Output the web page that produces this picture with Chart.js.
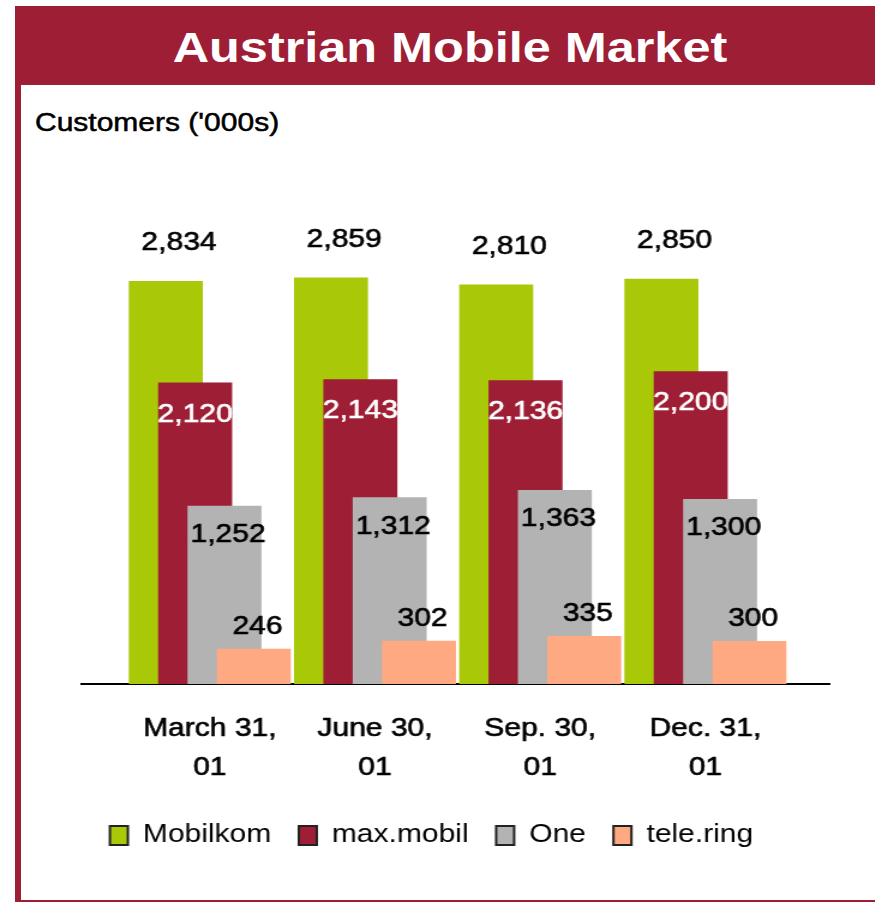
<!DOCTYPE html>
<html>
<head>
<meta charset="utf-8">
<title>Austrian Mobile Market</title>
<script src="https://cdn.jsdelivr.net/npm/chart.js@4.4.1/dist/chart.umd.min.js"></script>
<style>
  html, body { margin: 0; padding: 0; background: #fff; }
  body { width: 875px; height: 903px; position: relative; overflow: hidden; font-family: "Liberation Sans", Arial, sans-serif; }
  #banner { position: absolute; left: 15px; top: 6px; width: 860px; height: 79px; background: #9d1e35; color: #fff; text-align: center; }
  #banner span { display: inline-block; font-weight: bold; font-size: 42px; line-height: 79px; padding: 2px 0 0 9px; transform: scaleX(1.2); }
  #frame { position: absolute; left: 15px; top: 85px; width: 854px; height: 815px; border-left: 6px solid #9d1e35; border-bottom: 2px solid #9d1e35; }
  #unit { position: absolute; left: 35px; top: 110px; font-size: 25px; line-height: 25px; transform: scaleX(1.2); transform-origin: 0 0; white-space: nowrap; -webkit-text-stroke: 0.5px #000; }
  /* the source picture is stretched sideways, so the chart is drawn narrow and widened */
  #wrap { position: absolute; left: 0; top: 0; width: 729.17px; height: 903px; transform: scaleX(1.2); transform-origin: 0 0; }
</style>
</head>
<body>
<div id="frame"></div>
<div id="banner"><span>Austrian Mobile Market</span></div>
<div id="unit">Customers ('000s)</div>
<div id="wrap"><canvas id="chart"></canvas></div>

<script>
// data
const categories = [["March 31,", "01"], ["June 30,", "01"], ["Sep. 30,", "01"], ["Dec. 31,", "01"]];
const seriesNames = ["Mobilkom", "max.mobil", "One", "tele.ring"];
const mobilkom = [2834, 2859, 2810, 2850];
const maxMobil = [2120, 2143, 2136, 2200];
const one = [1252, 1312, 1363, 1300];
const teleRing = [246, 302, 335, 300];

const colors = ['#a9c808', '#9d1e35', '#b3b3b3', '#ffa982'];
const FONT = '"Liberation Sans", Arial, sans-serif';
const SHIFT = 0.1776; // bars of one date overlap, each moved right by this much

// where each series puts its value text, relative to the bar top
const labelStyle = [
    { dx: 11, dy: -38, color: '#000' },
    { dx: 0, dy: 32, color: '#fff' },
    { dx: 3, dy: 29, color: '#000' },
    { dx: 3, dy: -22, color: '#000' }
];

const allSeries = [mobilkom, maxMobil, one, teleRing];

const datasets = allSeries.map(function(values, k) {
    return {
        label: seriesNames[k],
        data: values.map(function(v, i) { return { x: i + (k - 1.5) * SHIFT, y: v }; }),
        backgroundColor: colors[k],
        borderWidth: 0,
        barThickness: 61,
        grouped: false,
        order: 3 - k // later series sit in front
    };
});

const valueLabels = {
    id: 'valueLabels',
    afterDatasetsDraw(chart) {
        const ctx = chart.ctx;
        chart.data.datasets.forEach(function(ds, di) {
            const meta = chart.getDatasetMeta(di);
            const st = labelStyle[di];
            meta.data.forEach(function(bar, i) {
                const txt = ds.data[i].y.toLocaleString('en-US');
                ctx.save();
                ctx.font = '25px ' + FONT;
                ctx.fillStyle = st.color;
                ctx.strokeStyle = st.color;
                ctx.lineWidth = 0.6;
                ctx.textAlign = 'center';
                ctx.textBaseline = 'middle';
                ctx.fillText(txt, bar.x + st.dx, bar.y + st.dy);
                ctx.strokeText(txt, bar.x + st.dx, bar.y + st.dy);
                ctx.restore();
            });
        });
    }
};

function hiddenAxis(position, width) {
    return {
        type: 'linear',
        position: position,
        display: true,
        min: 0,
        max: 3400,
        ticks: { display: false },
        grid: { display: false, drawTicks: false },
        border: { display: false },
        afterFit: function(s) { s.width = width; }
    };
}

new Chart(document.getElementById('chart'), {
    type: 'bar',
    data: { datasets: datasets },
    plugins: [valueLabels],
    options: {
        responsive: true,
        maintainAspectRatio: false,
        animation: false,
        layout: { padding: { top: 201, right: 10, bottom: 45, left: 0 } },
        scales: {
            x: {
                type: 'linear',
                offset: false,
                min: -0.776,
                max: 3.751,
                afterBuildTicks: function(s) {
                    s.ticks = categories.map(function(c, i) { return { value: i }; });
                },
                ticks: {
                    autoSkip: false,
                    maxRotation: 0,
                    padding: 26,
                    color: '#000',
                    textStrokeColor: '#000',
                    textStrokeWidth: 0.6,
                    font: { family: FONT, size: 25, lineHeight: 1.56 },
                    callback: function(value) { return categories[value]; }
                },
                grid: { display: false, drawTicks: false },
                border: { display: true, color: '#000', width: 2 },
                afterFit: function(s) { s.height = 116; }
            },
            y: hiddenAxis('left', 68),
            y2: hiddenAxis('right', 28)
        },
        plugins: {
            tooltip: { enabled: false },
            legend: {
                position: 'bottom',
                labels: {
                    boxWidth: 15,
                    boxHeight: 19,
                    padding: 23,
                    color: '#000',
                    font: { family: FONT, size: 25 },
                    generateLabels: function(chart) {
                        return chart.data.datasets.map(function(ds, i) {
                            return {
                                text: ds.label,
                                fillStyle: ds.backgroundColor,
                                strokeStyle: '#222',
                                lineWidth: 2,
                                hidden: false,
                                datasetIndex: i
                            };
                        });
                    }
                }
            }
        }
    }
});
</script>
</body>
</html>
